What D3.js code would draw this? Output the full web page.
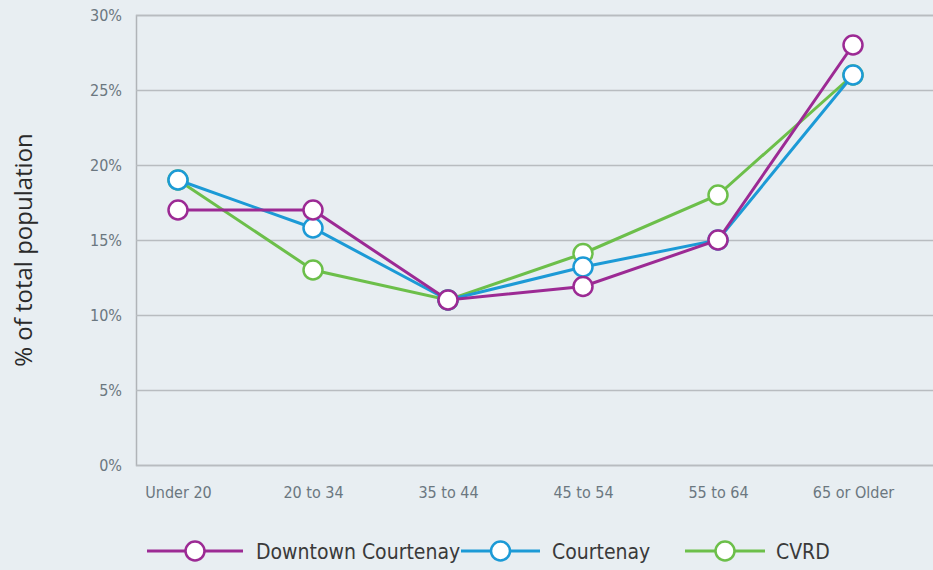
<!DOCTYPE html>
<html><head><meta charset="utf-8">
<script src="https://cdn.jsdelivr.net/npm/d3@7"></script>
<style>
body{margin:0;background:#e8eef2;}
svg{display:block;}
.cond{font-family:'DejaVu Sans Condensed','DejaVu Sans',sans-serif;font-stretch:condensed;}
</style></head>
<body>
<svg id="c" width="933" height="570"></svg>
<script>
const categories = ["Under 20","20 to 34","35 to 44","45 to 54","55 to 64","65 or Older"];
const downtown = [17, 17, 11, 11.9, 15, 28];
const courtenay = [19, 15.8, 11, 13.2, 15, 26];
const cvrd = [19, 13, 11, 14.1, 18, 26];
const yTicks = [0,5,10,15,20,25,30];
const seriesNames = ["Downtown Courtenay","Courtenay","CVRD"];
const colors = {"Downtown Courtenay":"#9c2a94","Courtenay":"#1c9ad6","CVRD":"#6cbf4a"};

(function(){
const svg = d3.select("#c");
svg.append("rect").attr("width",933).attr("height",570).attr("fill","#e8eef2");
const mLeft = 136, mRight = 933, mTop = 15, mBottom = 465;
const x = d3.scalePoint().domain(categories).range([178, 853]);
const y = d3.scaleLinear().domain([0,30]).range([mBottom, mTop]);

const yAxis = d3.axisLeft(y).tickValues(yTicks).tickSize(-(mRight-mLeft)).tickFormat(d=>d+"%").tickPadding(14);
const gy = svg.append("g").attr("transform",`translate(${mLeft},0)`).call(yAxis);
gy.select(".domain").attr("stroke","#b0b4b8").attr("stroke-width",1.5);
gy.selectAll(".tick line").attr("stroke","#b8bcc0").attr("stroke-width",1.5);
gy.selectAll(".tick text").attr("class","cond").attr("fill","#6b7780").style("font-size","16px");

const xAxis = d3.axisBottom(x).tickSize(0).tickPadding(22);
const gx = svg.append("g").attr("transform",`translate(0,${mBottom})`).call(xAxis);
gx.select(".domain").remove();
gx.selectAll(".tick text").attr("class","cond").attr("fill","#6b7780").style("font-size","16px");
gx.attr("font-family",null); gy.attr("font-family",null);

svg.append("text").attr("transform","translate(32,250) rotate(-90)").attr("text-anchor","middle")
  .style("font-family","'Open Sans','DejaVu Sans',sans-serif").style("font-size","24px").attr("fill","#2a2a2a")
  .text("% of total population");

const data = [["CVRD",cvrd],["Courtenay",courtenay],["Downtown Courtenay",downtown]];
const line = d3.line().x((d,i)=>x(categories[i])).y(d=>y(d));
data.forEach(([name,vals])=>{
  const g = svg.append("g");
  g.append("path").datum(vals).attr("d",line).attr("fill","none").attr("stroke",colors[name]).attr("stroke-width",3);
  g.selectAll("circle").data(vals).join("circle")
    .attr("cx",(d,i)=>x(categories[i])).attr("cy",d=>y(d)).attr("r",9.5)
    .attr("fill","#fff").attr("stroke",colors[name]).attr("stroke-width",2.5);
});

const legend = [
  {name:"Downtown Courtenay", x1:147, x2:243, tx:256},
  {name:"Courtenay", x1:461, x2:540, tx:552},
  {name:"CVRD", x1:685, x2:765, tx:776}
];
const ly = 551;
legend.forEach(l=>{
  const c = colors[l.name];
  svg.append("line").attr("x1",l.x1).attr("x2",l.x2).attr("y1",ly).attr("y2",ly).attr("stroke",c).attr("stroke-width",3);
  svg.append("circle").attr("cx",(l.x1+l.x2)/2).attr("cy",ly).attr("r",9.5).attr("fill","#fff").attr("stroke",c).attr("stroke-width",2.5);
  svg.append("text").attr("class","cond").attr("x",l.tx).attr("y",ly).attr("dy","0.36em").attr("fill","#3a3a3a")
    .style("font-size","21px").text(l.name);
});
})();
</script>
</body></html>
